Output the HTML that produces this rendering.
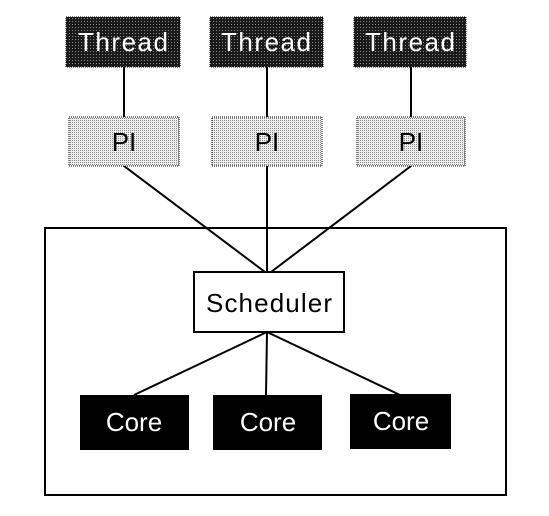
<!DOCTYPE html>
<html><head><style>body{margin:0;background:#fff}svg{display:block}</style></head>
<body>
<svg width="549" height="516" viewBox="0 0 549 516" xmlns="http://www.w3.org/2000/svg" font-family="Liberation Sans, DejaVu Sans, sans-serif">
<defs>
<pattern id="dk" width="3" height="3" patternUnits="userSpaceOnUse"><rect width="3" height="3" fill="#1a1a1a"/><rect width="1" height="1" fill="#888"/></pattern>
<pattern id="lt" width="2" height="2" patternUnits="userSpaceOnUse"><rect width="2" height="2" fill="#eee"/><rect width="1" height="1" fill="#888"/></pattern>
</defs>
<rect x="45" y="228" width="461" height="267" fill="#fff" stroke="#000" stroke-width="2"/>
<g stroke="#000" stroke-width="2">
<line x1="124" y1="67" x2="124" y2="117"/>
<line x1="267" y1="67" x2="267" y2="117"/>
<line x1="411" y1="67" x2="411" y2="117"/>
<line x1="124" y1="166" x2="265" y2="272"/>
<line x1="267" y1="166" x2="267" y2="272"/>
<line x1="411" y1="166" x2="271" y2="272"/>
<line x1="267" y1="332" x2="134" y2="395"/>
<line x1="267" y1="332" x2="266" y2="395"/>
<line x1="267" y1="332" x2="400" y2="395"/>
</g>
<g stroke="#000" stroke-width="1" stroke-dasharray="1 1">
<rect x="66" y="17" width="114" height="50" fill="url(#dk)"/>
<rect x="210" y="17" width="113" height="50" fill="url(#dk)"/>
<rect x="354" y="17" width="112" height="50" fill="url(#dk)"/>
<rect x="69" y="117" width="110" height="49" fill="url(#lt)"/>
<rect x="212" y="117" width="110" height="49" fill="url(#lt)"/>
<rect x="357" y="117" width="108" height="49" fill="url(#lt)"/>
</g>
<rect x="194" y="272" width="150" height="60" fill="#fff" stroke="#000" stroke-width="2"/>
<rect x="80" y="395" width="109" height="55" fill="#000"/>
<rect x="213" y="395" width="109" height="55" fill="#000"/>
<rect x="350" y="394" width="101" height="55" fill="#000"/>
<g font-size="26" text-anchor="middle">
<text x="123" y="51" fill="#fff" textLength="90">Thread</text>
<text x="266" y="51" fill="#fff" textLength="90">Thread</text>
<text x="410" y="51" fill="#fff" textLength="90">Thread</text>
<text x="124" y="151" fill="#000">PI</text>
<text x="267" y="151" fill="#000">PI</text>
<text x="411" y="151" fill="#000">PI</text>
<text x="269" y="312" fill="#000" textLength="126">Scheduler</text>
<text x="134" y="431" fill="#fff">Core</text>
<text x="268" y="431" fill="#fff">Core</text>
<text x="401" y="430" fill="#fff">Core</text>
</g>
</svg>
</body></html>
